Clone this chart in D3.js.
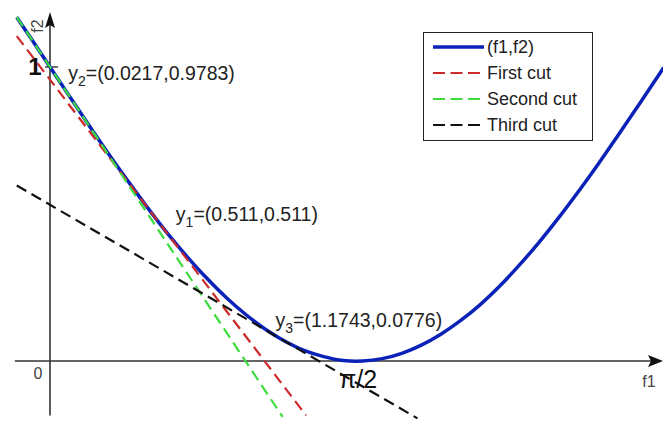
<!doctype html>
<html>
<head>
<meta charset="utf-8">
<script src="https://d3js.org/d3.v7.min.js"></script>
<style>
  body { margin: 0; background: #fff; }
  text { font-family: "Liberation Sans", Arial, sans-serif; fill: #111; }
</style>
</head>
<body>
<svg id="chart" width="663" height="424"></svg>
<script>
  // curve (f1,f2)
  var f1 = [-0.17, -0.1, 0, 0.1, 0.2, 0.3, 0.4, 0.5, 0.6, 0.7, 0.8, 0.9, 1.0, 1.1, 1.2, 1.3, 1.4, 1.5, 1.6,
            1.7, 1.8, 1.9, 2.0, 2.1, 2.2, 2.3, 2.4, 2.5, 2.6, 2.7, 2.8, 2.9, 3.0, 3.1, 3.14];
  var f2 = [1.169, 1.100, 1.000, 0.900, 0.801, 0.704, 0.611, 0.521, 0.435, 0.356, 0.283, 0.217, 0.159, 0.109,
            0.068, 0.036, 0.015, 0.002, 0.000, 0.008, 0.026, 0.054, 0.091, 0.137, 0.191, 0.254, 0.325, 0.402,
            0.485, 0.573, 0.665, 0.761, 0.859, 0.958, 0.998];

  // cuts: start / end points
  var cutNames = ["First cut", "Second cut", "Third cut"];
  var cutStart = [[-0.17, 1.105], [-0.17, 1.170], [-0.17, 0.597]];
  var cutEnd = [[1.31, -0.185], [1.19, -0.19], [1.88, -0.195]];
  var cutColors = ["#cc2a2a", "#3ddc3d", "#111111"];

  // labelled points
  var pointIdx = ["1", "2", "3"];
  var pointF1 = [0.511, 0.0217, 1.1743];
  var pointF2 = [0.511, 0.9783, 0.0776];
  var labelOffset = [[26, 10], [14, 7], [-4, -11]];

  // ticks
  var xTickValues = [0, Math.PI / 2];
  var xTickLabels = ["0", "π/2"];
  var yTickValues = [1];
  var yTickLabels = ["1"];

  var svg = d3.select("#chart");

  var xScale = d3.scaleLinear().domain([0, Math.PI / 2]).range([50, 357]);
  var yScale = d3.scaleLinear().domain([0, 1]).range([361, 67]);

  // axes with arrows
  var axisColor = "#333";
  var x0 = xScale(0), y0 = yScale(0);
  svg.append("line")
    .attr("x1", xScale(-0.18)).attr("x2", 652)
    .attr("y1", y0).attr("y2", y0)
    .attr("stroke", axisColor).attr("stroke-width", 1.6);
  svg.append("path")
    .attr("d", "M663," + y0 + " L648," + (y0 - 6) + " L651," + y0 + " L648," + (y0 + 6) + " Z")
    .attr("fill", "#111");
  svg.append("line")
    .attr("x1", x0).attr("x2", x0)
    .attr("y1", yScale(-0.185)).attr("y2", 24)
    .attr("stroke", axisColor).attr("stroke-width", 1.6);
  svg.append("path")
    .attr("d", "M" + x0 + ",12 L" + (x0 - 5) + ",28 L" + x0 + ",25 L" + (x0 + 5) + ",28 Z")
    .attr("fill", "#111");

  // y tick
  yTickValues.forEach(function(v, i) {
    svg.append("line")
      .attr("x1", x0 - 5).attr("x2", x0 + 8)
      .attr("y1", yScale(v)).attr("y2", yScale(v))
      .attr("stroke", axisColor).attr("stroke-width", 1.4);
    svg.append("text")
      .attr("x", 35).attr("y", yScale(v) + 8)
      .attr("text-anchor", "middle")
      .style("font-size", "24px").style("font-weight", "bold")
      .text(yTickLabels[i]);
  });

  // x tick labels
  svg.append("text")
    .attr("x", 38).attr("y", 379)
    .attr("text-anchor", "middle")
    .style("font-size", "16px").style("fill", "#444")
    .text(xTickLabels[0]);
  svg.append("text")
    .attr("x", xScale(xTickValues[1]) + 1).attr("y", 388)
    .attr("text-anchor", "middle")
    .style("font-size", "25px")
    .text(xTickLabels[1]);

  // axis names
  svg.append("text")
    .attr("x", 649).attr("y", 387)
    .attr("text-anchor", "middle")
    .style("font-size", "16px").style("fill", "#444")
    .text("f1");
  svg.append("text")
    .attr("transform", "translate(43,26) rotate(-90)")
    .attr("text-anchor", "middle")
    .style("font-size", "16px").style("fill", "#444")
    .text("f2");

  // curve
  var curveData = f1.map(function(v, i) { return [v, f2[i]]; });
  var line = d3.line()
    .x(d => xScale(d[0]))
    .y(d => yScale(d[1]))
    .curve(d3.curveCatmullRom);

  svg.append("path")
    .datum(curveData)
    .attr("d", line)
    .attr("fill", "none")
    .attr("stroke", "#0a22b8")
    .attr("stroke-width", 3.5);

  // cuts
  cutNames.forEach(function(name, i) {
    svg.append("path")
      .datum([cutStart[i], cutEnd[i]])
      .attr("d", d3.line().x(d => xScale(d[0])).y(d => yScale(d[1])))
      .attr("fill", "none")
      .attr("stroke", cutColors[i])
      .attr("stroke-width", 2.2)
      .attr("stroke-dasharray", "11,6");
  });

  // point labels
  pointIdx.forEach(function(k, i) {
    var t = svg.append("text")
      .attr("x", xScale(pointF1[i]) + labelOffset[i][0])
      .attr("y", yScale(pointF2[i]) + labelOffset[i][1])
      .style("font-size", "19.5px").style("fill", "#222");
    t.append("tspan").text("y");
    t.append("tspan").attr("dy", 6).style("font-size", "14px").text(k);
    t.append("tspan").attr("dy", -6).text("=(" + pointF1[i] + "," + pointF2[i] + ")");
  });

  // legend
  var legend = svg.append("g");
  legend.append("rect")
    .attr("x", 423.5).attr("y", 32.5).attr("width", 169).attr("height", 108)
    .attr("fill", "#fff").attr("stroke", "#222").attr("stroke-width", 1);
  var legNames = ["(f1,f2)"].concat(cutNames);
  var legColors = ["#0a22b8"].concat(cutColors);
  legNames.forEach(function(name, i) {
    var ly = 47 + i * 26;
    legend.append("line")
      .attr("x1", 433).attr("x2", 484).attr("y1", ly).attr("y2", ly)
      .attr("stroke", legColors[i])
      .attr("stroke-width", i == 0 ? 3.5 : 2.2)
      .attr("stroke-dasharray", i == 0 ? null : "12,5.5");
    legend.append("text")
      .attr("x", 487).attr("y", ly + 6)
      .style("font-size", "18px").style("fill", "#222")
      .text(name);
  });
</script>
</body>
</html>
